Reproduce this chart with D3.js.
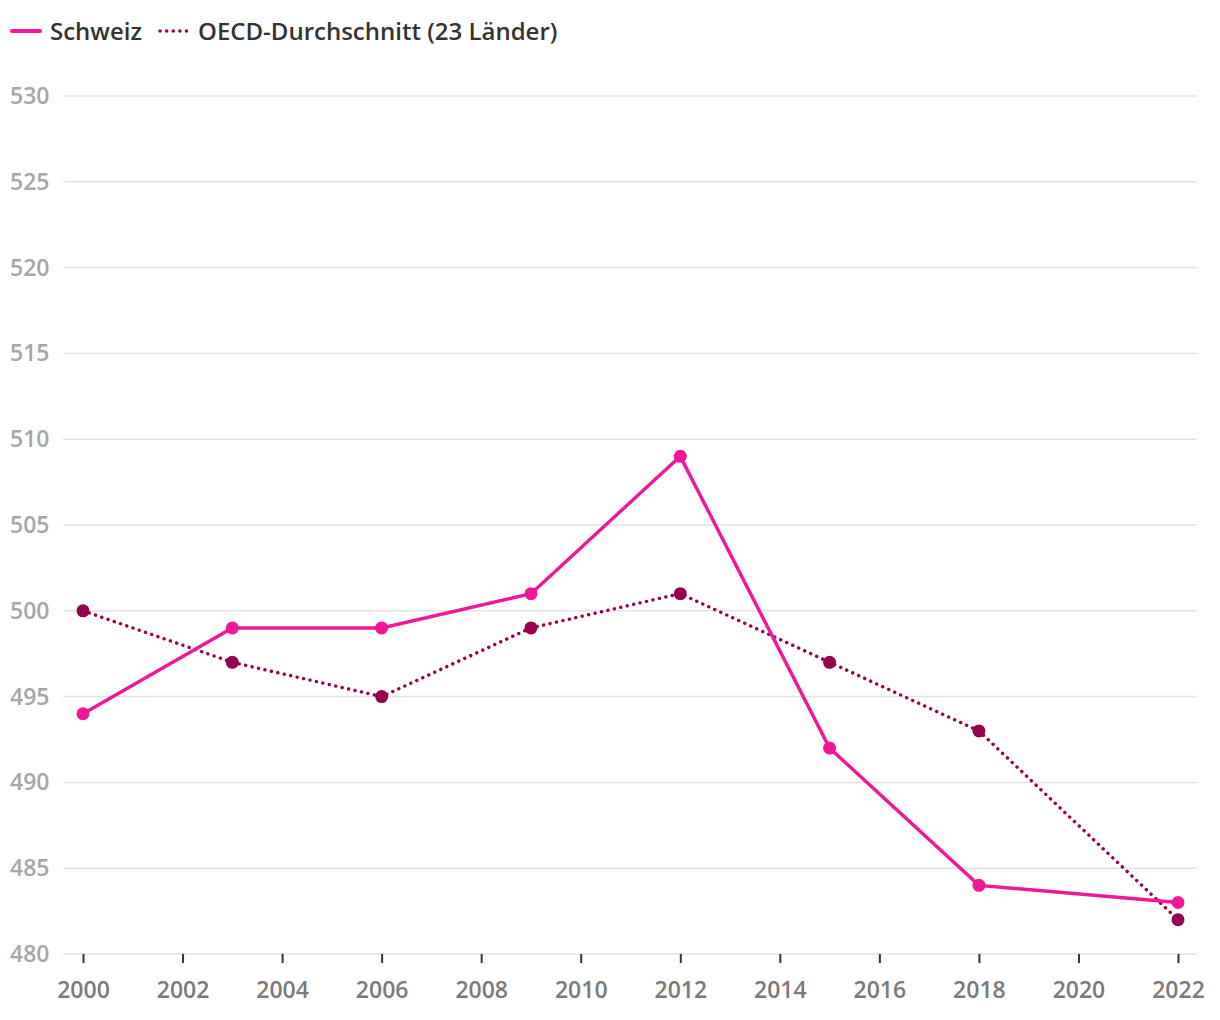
<!DOCTYPE html>
<html><head><meta charset="utf-8">
<script src="https://cdn.jsdelivr.net/npm/d3@7"></script>
<style>body{margin:0;background:#fff;font-family:"Open Sans","Noto Sans",sans-serif;}</style>
</head><body>
<svg id="c" width="1220" height="1020"></svg>
<script>
const years = [2000, 2003, 2006, 2009, 2012, 2015, 2018, 2022];
const schweiz = [494, 499, 499, 501, 509, 492, 484, 483];
const oecd = [500, 497, 495, 499, 501, 497, 493, 482];
const yTicks = [480, 485, 490, 495, 500, 505, 510, 515, 520, 525, 530];
const xTicks = [2000, 2002, 2004, 2006, 2008, 2010, 2012, 2014, 2016, 2018, 2020, 2022];
const seriesNames = ["Schweiz", "OECD-Durchschnitt (23 Länder)"];

const pink = "#f0179a", dark = "#960050";
const ff = "'Open Sans','Noto Sans',sans-serif";
const svg = d3.select("#c");
const x = d3.scaleLinear().domain([2000, 2022]).range([83, 1178]);
const y = d3.scaleLinear().domain([480, 530]).range([954, 96]);

// grid
svg.append("g").selectAll("line").data(yTicks).join("line")
  .attr("x1", 63).attr("x2", 1197).attr("y1", d => y(d)).attr("y2", d => y(d))
  .attr("stroke", "#e3e3e3").attr("stroke-width", 1.5);
svg.append("g").selectAll("text").data(yTicks).join("text")
  .attr("x", 10).attr("y", d => y(d) + 8).text(d => d)
  .attr("fill", "#a6a6a6").attr("font-size", 23).attr("font-weight", 600).attr("font-family", ff);

// x axis
const xa = svg.append("g").attr("transform", "translate(0,954)")
  .call(d3.axisBottom(x).tickValues(xTicks).tickFormat(d3.format("d")).tickSize(9).tickPadding(19));
xa.select(".domain").remove();
xa.selectAll("line").attr("stroke", "#333").attr("stroke-width", 2);
xa.selectAll("text").attr("fill", "#7a7a7a").attr("font-size", 23).attr("font-weight", 600).attr("font-family", ff);

const line = d3.line().x((d, i) => x(years[i])).y(d => y(d));
svg.append("path").datum(oecd).attr("d", line).attr("fill", "none")
  .attr("stroke", dark).attr("stroke-width", 3.4).attr("stroke-dasharray", "0.1 6.5").attr("stroke-linecap", "round");
svg.append("path").datum(schweiz).attr("d", line).attr("fill", "none")
  .attr("stroke", pink).attr("stroke-width", 3.4);
svg.append("g").selectAll("circle").data(oecd).join("circle")
  .attr("cx", (d, i) => x(years[i])).attr("cy", d => y(d)).attr("r", 6.5).attr("fill", dark);
svg.append("g").selectAll("circle").data(schweiz).join("circle")
  .attr("cx", (d, i) => x(years[i])).attr("cy", d => y(d)).attr("r", 6.5).attr("fill", pink);

// legend
const lg = svg.append("g");
lg.append("line").attr("x1", 12).attr("x2", 40).attr("y1", 31).attr("y2", 31).attr("stroke", pink).attr("stroke-width", 4).attr("stroke-linecap", "round");
lg.append("text").attr("x", 50).attr("y", 40).text(seriesNames[0]).attr("font-size", 24).attr("font-weight", 600).attr("fill", "#333").attr("font-family", ff);
lg.append("line").attr("x1", 160).attr("x2", 190).attr("y1", 31).attr("y2", 31).attr("stroke", dark).attr("stroke-width", 3.5).attr("stroke-linecap", "round").attr("stroke-dasharray", "0.1 6.5");
lg.append("text").attr("x", 198).attr("y", 40).text(seriesNames[1]).attr("font-size", 24).attr("font-weight", 600).attr("fill", "#333").attr("font-family", ff);
</script>
</body></html>
